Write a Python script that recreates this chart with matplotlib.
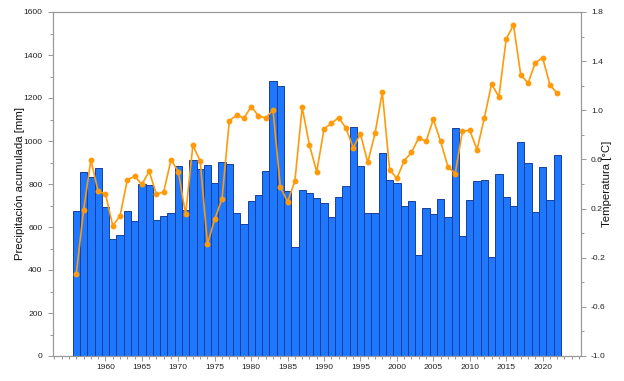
import matplotlib
matplotlib.use("Agg")
import matplotlib.pyplot as plt
from matplotlib.ticker import MultipleLocator, FixedLocator

years = list(range(1956, 2023))
precip = [674, 857, 834, 873, 693, 544, 563, 674, 628, 800,
          795, 633, 650, 667, 884, 679, 912, 870, 888, 805,
          902, 891, 665, 614, 721, 747, 860, 1279, 1256, 769,
          507, 772, 760, 735, 712, 647, 740, 789, 1064, 884,
          665, 664, 943, 820, 805, 699, 719, 470, 687, 659,
          730, 645, 1059, 557, 724, 816, 818, 459, 847, 740,
          698, 995, 896, 670, 879, 726, 936]
temp = [-0.330, 0.188, 0.595, 0.340, 0.319, 0.061, 0.140, 0.433, 0.463, 0.397,
        0.503, 0.316, 0.337, 0.598, 0.500, 0.153, 0.715, 0.587, -0.088, 0.113,
        0.280, 0.915, 0.960, 0.937, 1.029, 0.956, 0.937, 1.002, 0.378, 0.256,
        0.424, 1.024, 0.715, 0.500, 0.848, 0.894, 0.940, 0.856, 0.696, 0.807,
        0.576, 0.813, 1.146, 0.516, 0.446, 0.590, 0.657, 0.777, 0.747, 0.926,
        0.747, 0.541, 0.484, 0.831, 0.837, 0.679, 0.937, 1.214, 1.108, 1.580,
        1.694, 1.289, 1.221, 1.387, 1.428, 1.208, 1.138]
xtick_labels = [1960, 1965, 1970, 1975, 1980, 1985, 1990, 1995, 2000, 2005, 2010, 2015, 2020]
left_ticks = [0, 200, 400, 600, 800, 1000, 1200, 1400, 1600]
right_ticks = [-1.0, -0.6, -0.2, 0.2, 0.6, 1.0, 1.4, 1.8]

plt.rcParams['font.family'] = ['Liberation Sans', 'DejaVu Sans']
fig = plt.figure(figsize=(6.24, 3.81), dpi=100)
L, R, T, B = 53, 580.5, 12, 356
ax = fig.add_axes([L/624, 1 - B/381, (R - L)/624, (B - T)/381])
ax.bar(years, precip, width=1.0, color='#1E78FF', edgecolor='#1a3f99', linewidth=0.7, zorder=2)
ax.set_xlim(1952.8, 2025.2)
ax.set_ylim(0, 1600)
ax.yaxis.set_major_locator(FixedLocator(left_ticks))
ax.yaxis.set_minor_locator(MultipleLocator(100))
ax.xaxis.set_major_locator(FixedLocator(xtick_labels))
ax.xaxis.set_minor_locator(MultipleLocator(1))
ax.set_ylabel('Precipitación acumulada [mm]', fontsize=8.2, color='#111111')
ax.yaxis.label.set_va('center')
ax.yaxis.set_label_coords((20 - L)/(R - L), 0.5)

ax2 = ax.twinx()
ax2.plot(years, temp, color='#FF9A0A', linewidth=1.2, marker='o', markersize=3.2, zorder=3)
ax2.set_ylim(-1.0, 1.8)
ax2.yaxis.set_major_locator(FixedLocator(right_ticks))
ax2.yaxis.set_minor_locator(MultipleLocator(0.2))
ax2.set_yticklabels([f'{v:.1f}' for v in right_ticks])
ax2.set_ylabel('Temperatura [°C]', fontsize=8.2, color='#111111')
ax2.yaxis.label.set_va('center')
ax2.yaxis.set_label_coords((607 - L)/(R - L), 0.5)

for a in (ax, ax2):
    for s in a.spines.values():
        s.set_color('#999999')
        s.set_linewidth(0.8)
    a.tick_params(which='both', colors='#888888', labelcolor='#222222', labelsize=6.1)
    a.tick_params(which='major', length=3.5, width=0.6, pad=4)
    a.tick_params(which='minor', length=2, width=0.6)
ax.tick_params(axis='x', pad=2)

fig.savefig('out.png', dpi=100)
